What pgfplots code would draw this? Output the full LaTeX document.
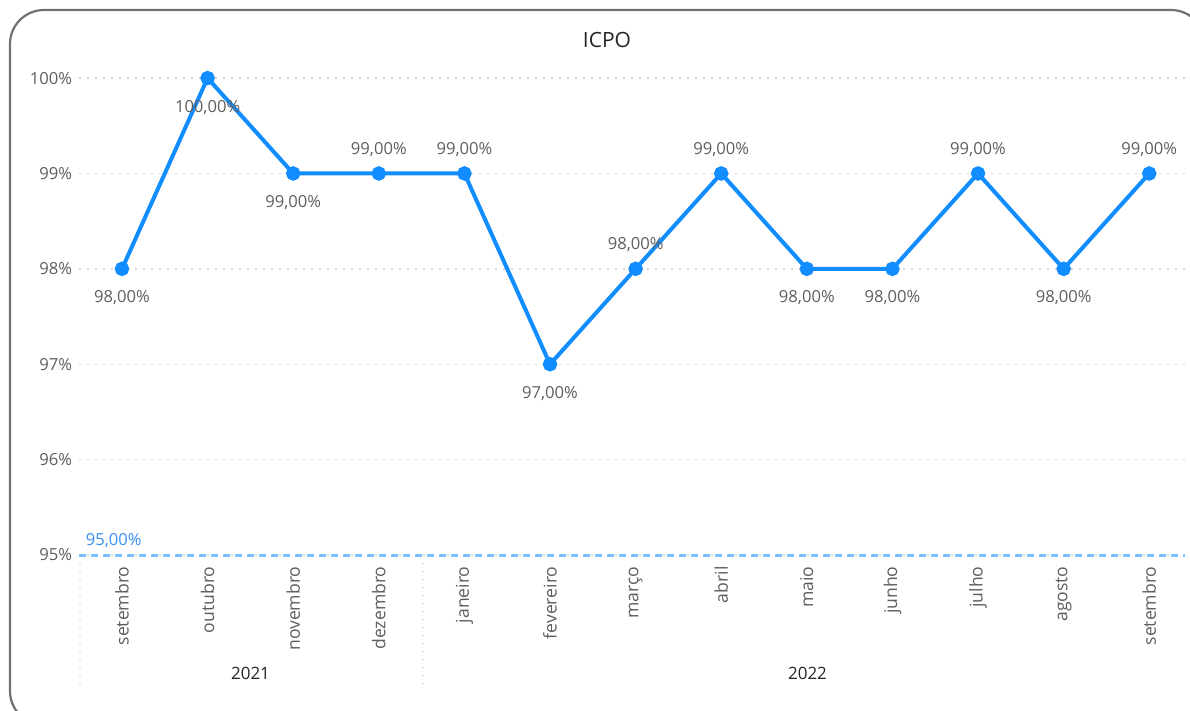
\documentclass[border=0pt]{standalone}
\usepackage{pgfplots}
\pgfplotsset{compat=1.18}
\usepackage{pgfplotstable}
\usepackage{fontspec}
\setmainfont{Open Sans}
\definecolor{pbblue}{HTML}{118DFF}
\definecolor{reflb}{HTML}{7CC0FF}
\definecolor{refbl}{HTML}{3A8FF0}
\definecolor{txt}{HTML}{605E5C}
\definecolor{dark}{HTML}{252423}
\definecolor{gridc}{HTML}{D6D6D6}
\definecolor{framec}{HTML}{707070}
\pgfplotstableread{
x y pos
0 98 -1
1 100 -1
2 99 -1
3 99 1
4 99 1
5 97 -1
6 98 1
7 99 1
8 98 -1
9 98 -1
10 99 1
11 98 -1
12 99 1
}\icpo
\begin{document}
\begin{tikzpicture}
\useasboundingbox (0,0) rectangle (595pt,-355.5pt);
\clip (0,0) rectangle (595pt,-355.5pt);
\begin{scope}[x=0.5pt,y=-0.5pt]
\draw[framec, line width=1.1pt, rounded corners=17pt] (10,10) rectangle (1205,725);
\node[font=\fontsize{10.5}{12}\selectfont, text=dark] at (607,40) {ICPO};
\draw[gridc, line width=0.7pt, dash pattern=on 0.7pt off 3.3pt] (80,563) -- (80,690);
\draw[gridc, line width=0.7pt, dash pattern=on 0.7pt off 3.3pt] (423,563) -- (423,690);
\node[font=\fontsize{8.5}{10}\selectfont, text=dark] at (250.5,673) {2021};
\node[font=\fontsize{8.5}{10}\selectfont, text=dark] at (807.5,673) {2022};
\end{scope}
\begin{axis}[
  at={(39.6pt,-277.5pt)}, anchor=south west,
  scale only axis, width=553pt, height=248pt,
  xmin=-0.5, xmax=12.42, ymin=95, ymax=100.2,
  clip=false,
  axis line style={draw=none}, tick style={draw=none},
  major tick length=0pt,
  ytick={95,96,97,98,99,100},
  yticklabel={\pgfmathprintnumber[assume math mode=true]{\tick}\%},
  yticklabel style={font=\fontsize{8.3}{10}\selectfont, text=txt},
  xtick={0,...,12},
  xticklabels={setembro,outubro,novembro,dezembro,janeiro,fevereiro,março,abril,maio,junho,julho,agosto,setembro},
  xticklabel style={rotate=90, anchor=east, inner sep=5.5pt, font=\fontsize{8.8}{10}\selectfont, text=txt},
  ymajorgrids, grid style={gridc, line width=0.7pt, dash pattern=on 0.7pt off 3.3pt},
]
\addplot[reflb, line width=1.5pt, dash pattern=on 3.5pt off 2.5pt] coordinates {(-0.5,95) (12.42,95)};
\node[anchor=south west, text=refbl, font=\fontsize{8.3}{10}\selectfont, inner sep=1pt] at (axis cs:-0.45,95.05) {95,00\%};
\addplot[pbblue, line width=2pt, mark=*, mark size=2.6pt, mark options={fill=pbblue, draw=pbblue},
  point meta=y,
  visualization depends on={\thisrow{pos}\as\lpos},
  nodes near coords={\pgfmathprintnumber[fixed,fixed zerofill,precision=2,use comma,assume math mode=true]{\pgfplotspointmeta}\%},
  every node near coord/.style={anchor=center, yshift={(\lpos>0)*26.5pt-14.5pt}, font=\fontsize{8.3}{10}\selectfont, text=txt},
] table[x=x,y=y] {\icpo};
\end{axis}
\end{tikzpicture}
\end{document}
